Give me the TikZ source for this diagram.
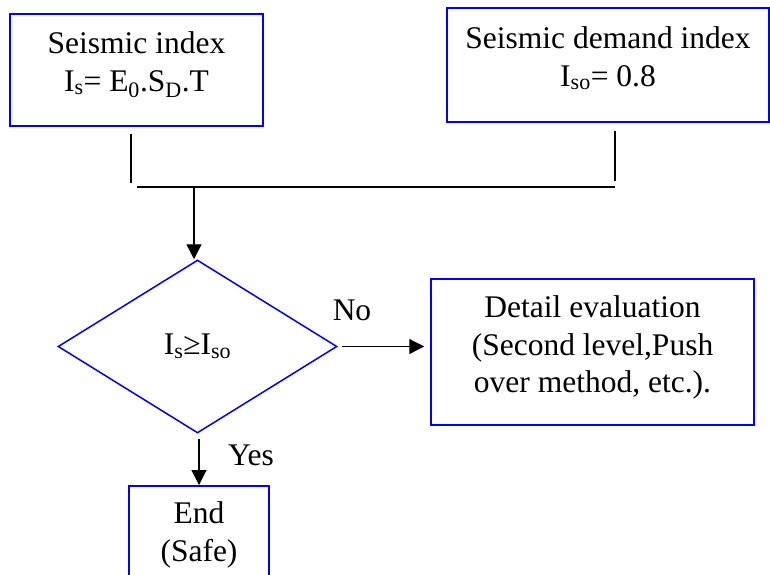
\documentclass[tikz,border=0pt]{standalone}
\usepackage{fontspec}
\setmainfont{Liberation Serif}
\usepackage{tikz}
\usetikzlibrary{shapes.geometric,arrows.meta}
\definecolor{edgeblue}{HTML}{0000FF}
\newcommand{\subtxt}[1]{\textsubscript{#1}}

\begin{document}
\begin{tikzpicture}[x=1pt, y=-1pt,
  every node/.style={font=\fontsize{31.5}{37.5}\selectfont},
  box/.style={draw=edgeblue, line width=1.5pt, align=center, inner sep=0pt, text depth=17pt},
  decision/.style={diamond, draw=edgeblue, line width=1.5pt, inner sep=0pt,
    minimum width=279pt, minimum height=173pt},
  link/.style={line width=1.3pt},
  arr/.style={link, -{Triangle[length=15pt, width=15pt]}}]
  \useasboundingbox (0,0) rectangle (770,574);
  % the two indices
  \node[box, minimum width=253pt, minimum height=112pt] (index) at (136.5,70)
    {Seismic index\\I\subtxt{s}= E\subtxt{0}.S\subtxt{D}.T};
  \node[box, minimum width=322pt, minimum height=114pt] (demand) at (608,65)
    {Seismic demand index\\I\subtxt{so}= 0.8};
  % joining bar
  \coordinate (stubl) at (131,187);
  \coordinate (busl) at (137,187);
  \coordinate (stubr) at (615,187);
  \coordinate (drop) at (194,187);
  \draw[link, shorten <=7pt, shorten >=4pt] (index.south -| stubl) -- (stubl);
  \draw[link, shorten <=8pt, shorten >=6pt] (demand.south -| stubr) -- (stubr);
  \draw[link] (busl) -- (stubr);
  % check
  \node[decision] (test) at (197.5,346.5) {I\subtxt{s}≥I\subtxt{so}};
  \draw[arr] (drop) -- (drop |- test.north);
  \node[box, minimum width=323pt, minimum height=146pt, text depth=15pt] (detail) at (592.5,352)
    {Detail evaluation\\(Second level,Push\\over method, etc.).};
  \draw[arr, shorten <=4pt, shorten >=6pt] (test.east) -- (test.east -| detail.west);
  \node[anchor=base] (nolbl) at (352,320) {No};
  \node[box, anchor=north, minimum width=140pt, minimum height=109pt] (endbox) at (199,485)
    {End\\(Safe)};
  \draw[arr, shorten <=5pt] (test.south -| endbox.north) -- (endbox.north);
  \node[anchor=base] (yeslbl) at (251,465) {Yes};
\end{tikzpicture}
\end{document}
